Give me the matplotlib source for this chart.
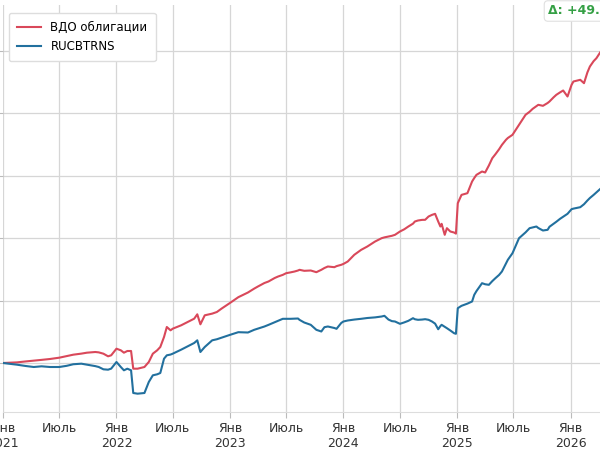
import pandas as pd
import matplotlib
matplotlib.use('Agg')
import matplotlib.pyplot as plt

# накопленная доходность, %
dates = [
    '2021-01-01', '2021-02-15', '2021-03-15', '2021-04-10', '2021-05-05', '2021-06-01',
    '2021-07-01', '2021-07-25', '2021-08-15', '2021-09-10', '2021-09-28', '2021-10-25',
    '2021-11-05', '2021-11-20', '2021-12-05', '2021-12-15', '2022-01-01', '2022-01-15',
    '2022-01-25', '2022-02-05', '2022-02-17', '2022-02-24', '2022-03-10', '2022-04-01',
    '2022-04-15', '2022-04-28', '2022-05-12', '2022-05-22', '2022-06-03', '2022-06-12',
    '2022-06-24', '2022-07-01', '2022-07-28', '2022-08-18', '2022-09-08', '2022-09-18',
    '2022-09-28', '2022-10-12', '2022-11-05', '2022-11-20', '2022-12-05', '2023-01-01',
    '2023-01-28', '2023-02-28', '2023-03-20', '2023-04-01', '2023-04-22', '2023-05-05',
    '2023-05-25', '2023-06-05', '2023-06-20', '2023-07-01', '2023-07-15', '2023-07-28',
    '2023-08-08', '2023-08-13', '2023-08-28', '2023-09-18', '2023-10-06', '2023-10-22',
    '2023-11-01', '2023-11-12', '2023-12-03', '2023-12-10', '2023-12-25', '2024-01-01',
    '2024-01-15', '2024-02-05', '2024-02-27', '2024-03-18', '2024-04-12', '2024-05-03',
    '2024-05-12', '2024-05-25', '2024-06-05', '2024-06-15', '2024-07-01', '2024-07-15',
    '2024-07-28', '2024-08-12', '2024-08-18', '2024-08-28', '2024-09-10', '2024-09-20',
    '2024-10-01', '2024-10-12', '2024-10-22', '2024-11-01', '2024-11-08', '2024-11-12',
    '2024-11-22', '2024-11-29', '2024-12-10', '2024-12-22', '2024-12-28', '2025-01-03',
    '2025-01-15', '2025-02-03', '2025-02-18', '2025-02-25', '2025-03-04', '2025-03-22',
    '2025-04-01', '2025-04-13', '2025-04-24', '2025-05-04', '2025-05-16', '2025-05-25',
    '2025-06-07', '2025-06-13', '2025-06-28', '2025-07-19', '2025-08-09', '2025-08-22',
    '2025-09-01', '2025-09-13', '2025-09-19', '2025-10-04', '2025-10-19', '2025-10-25',
    '2025-11-07', '2025-11-16', '2025-11-28', '2025-12-08', '2025-12-22', '2026-01-04',
    '2026-01-10', '2026-02-01', '2026-02-13', '2026-02-24', '2026-03-04', '2026-03-16',
    '2026-03-25', '2026-04-15',
]

vdo = [
    0, 0.1, 0.25, 0.37, 0.5, 0.64,
    0.85, 1.1, 1.33, 1.5, 1.65, 1.76,
    1.7, 1.49, 1.07, 1.23, 2.29, 2.03,
    1.65, 1.92, 1.92, -0.91, -0.91, -0.64,
    0.16, 1.49, 2.03, 2.56, 4.16, 5.76,
    5.23, 5.49, 6.03, 6.56, 7.09, 7.79,
    6.19, 7.63, 7.9, 8.16, 8.7, 9.6,
    10.53, 11.28, 11.9, 12.24, 12.8, 13.04,
    13.6, 13.84, 14.1, 14.37, 14.5, 14.64,
    14.8, 14.91, 14.75, 14.8, 14.53, 14.91,
    15.2, 15.44, 15.33, 15.5, 15.71, 15.85,
    16.24, 17.31, 18.1, 18.64, 19.44, 19.97,
    20.1, 20.24, 20.35, 20.51, 21.04, 21.4,
    21.84, 22.3, 22.64, 22.8, 22.9, 22.91,
    23.44, 23.7, 23.87, 22.64, 21.84, 22.27,
    20.51, 21.57, 21.04, 20.88, 20.7, 25.57,
    26.9, 27.17, 29.04, 29.6, 30.1, 30.64,
    30.48, 31.6, 32.77, 33.4, 34.21, 34.9,
    35.71, 36.0, 36.51, 38.11, 39.71, 40.2,
    40.67, 41.1, 41.31, 41.15, 41.6, 41.84,
    42.5, 42.91, 43.3, 43.6, 42.64, 44.5,
    45.04, 45.31, 44.77, 46.5, 47.44, 48.3,
    48.77, 50.37,
]

rucbtrns = [
    0, -0.27, -0.48, -0.64, -0.53, -0.64,
    -0.64, -0.45, -0.2, -0.11, -0.27, -0.5,
    -0.64, -1.01, -1.07, -0.9, 0.16, -0.64,
    -1.17, -0.91, -1.17, -4.8, -4.91, -4.8,
    -3.04, -1.97, -1.81, -1.6, 0.69, 1.23,
    1.35, 1.49, 2.13, 2.67, 3.2, 3.63,
    1.76, 2.56, 3.63, 3.8, 4.05, 4.5,
    4.93, 4.88, 5.31, 5.5, 5.84, 6.1,
    6.53, 6.75, 7.07, 7.07, 7.07, 7.1,
    7.12, 6.9, 6.48, 6.11, 5.31, 5.04,
    5.73, 5.84, 5.6, 5.47, 6.4, 6.64,
    6.8, 6.95, 7.07, 7.2, 7.3, 7.44,
    7.55, 6.95, 6.7, 6.64, 6.27, 6.5,
    6.75, 7.17, 7.0, 6.91, 6.95, 7.01,
    6.91, 6.64, 6.3, 5.4, 5.9, 6.11,
    5.8, 5.57, 5.2, 4.77, 4.67, 8.77,
    9.15, 9.5, 9.84, 10.91, 11.5, 12.77,
    12.6, 12.51, 13.1, 13.57, 14.1, 14.64,
    15.9, 16.51, 17.57, 19.97, 20.9, 21.57,
    21.7, 21.84, 21.6, 21.2, 21.31, 21.8,
    22.27, 22.6, 23.07, 23.4, 23.87, 24.61,
    24.7, 24.93, 25.4, 26.0, 26.4, 26.9,
    27.3, 28.24,
]

tick_dates = ['2021-01-01', '2021-07-01', '2022-01-01', '2022-07-01', '2023-01-01',
              '2023-07-01', '2024-01-01', '2024-07-01', '2025-01-01', '2025-07-01',
              '2026-01-01']
tick_labels = ['Янв\n2021', 'Июль', 'Янв\n2022', 'Июль', 'Янв\n2023', 'Июль',
               'Янв\n2024', 'Июль', 'Янв\n2025', 'Июль', 'Янв\n2026']
delta_text = 'Δ: +49.5%'

x = pd.to_datetime(dates)

fig = plt.figure(figsize=(6, 4.5), dpi=100)
# оси шире картинки: левый и правый край уходят за кадр
ax = fig.add_axes([3 / 600, 38 / 450, 640 / 600, 407 / 450])

ax.plot(x, vdo, color='#d9485a', lw=1.5, label='ВДО облигации')
ax.plot(x, rucbtrns, color='#22709e', lw=1.5, label='RUCBTRNS')

ax.set_xlim(pd.Timestamp('2021-01-01'), pd.Timestamp('2021-01-01') + pd.Timedelta(days=637 / 0.3094))
ax.set_ylim(-7.84, 57.28)
ax.set_yticks([0, 10, 20, 30, 40, 50])
ax.set_xticks(pd.to_datetime(tick_dates))
ax.set_xticklabels(tick_labels)

ax.grid(True, color='#d6d6d6', lw=0.9)
ax.set_axisbelow(True)
for s in ['top', 'right', 'left']:
    ax.spines[s].set_visible(False)
ax.spines['bottom'].set_color('#dddddd')
ax.tick_params(axis='both', colors='#bbbbbb', length=4, labelsize=9, labelcolor='#333333')
ax.tick_params(axis='y', labelleft=False)

ax.legend(loc='upper left', bbox_to_anchor=(0.004, 0.99), fontsize=8.5, frameon=True,
          edgecolor='#dddddd', framealpha=1, borderpad=0.7, borderaxespad=0.3,
          handlelength=2.0)

fig.text(548 / 600, 1 - 11 / 450, delta_text, color='#35a045', fontsize=9, fontweight='bold',
         ha='left', va='center',
         bbox=dict(boxstyle='round,pad=0.3', fc='white', ec='#e0e0e0', lw=0.8))

fig.savefig('out.png', dpi=100)
